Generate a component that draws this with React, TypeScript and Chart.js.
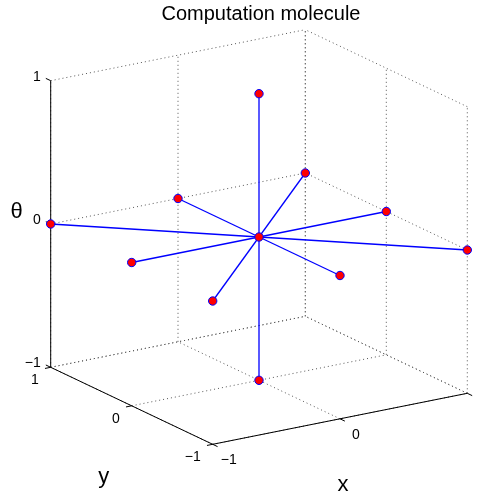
import React, { useEffect, useRef } from "react";
import { Chart, registerables } from "chart.js";

Chart.register(...registerables);

// ---- data: stencil points of the computation molecule (x, y, theta) ----
const pointX = [0, 1, -1, 0, 0, 0, 0, 1, -1, -1, 1];
const pointY = [0, 0, 0, 1, -1, 0, 0, 1, -1, 1, -1];
const pointTheta = [0, 0, 0, 0, 0, 1, -1, 0, 0, 0, 0];
const centerIndex = 0;

// ---- axes ----
const xTicks = [-1, 0, 1];
const yTicks = [-1, 0, 1];
const thetaTicks = [-1, 0, 1];
const xTickLabels = ["\u22121", "0", "1"];
const yTickLabels = ["\u22121", "0", "1"];
const thetaTickLabels = ["\u22121", "0", "1"];
const titleText = "Computation molecule";
const xLabel = "x";
const yLabel = "y";
const thetaLabel = "\u03b8";

// ---- view (orthographic projection of the 3D box onto the page) ----
const VIEW = { cx: 259, cy: 237, ex: [127.3, -25.5], ey: [-81, -38.5], ez: [0, -143.3] };
const W = 477;
const H = 497;

function proj(x: number, y: number, t: number) {
  return {
    x: VIEW.cx + x * VIEW.ex[0] + y * VIEW.ey[0] + t * VIEW.ez[0],
    y: VIEW.cy + x * VIEW.ex[1] + y * VIEW.ey[1] + t * VIEW.ez[1],
  };
}

const FONT = "'Liberation Sans', Arial, Helvetica, sans-serif";

type P3 = [number, number, number];

function seg(a: P3, b: P3, style: any) {
  return {
    data: [proj(a[0], a[1], a[2]), proj(b[0], b[1], b[2])],
    showLine: true,
    pointRadius: 0,
    fill: false,
    ...style,
  };
}

export default function App() {
  const ref = useRef<HTMLCanvasElement | null>(null);

  useEffect(() => {
    const canvas = ref.current;
    if (!canvas) return;
    const lo = Math.min(...xTicks), hi = Math.max(...xTicks);
    const ylo = Math.min(...yTicks), yhi = Math.max(...yTicks);
    const tlo = Math.min(...thetaTicks), thi = Math.max(...thetaTicks);

    const gridStyle = { borderColor: "#555", borderWidth: 1, borderDash: [1, 3], order: 40 };
    const axisStyle = { borderColor: "#000", borderWidth: 1, order: 30 };
    const spokeStyle = { borderColor: "#0000ff", borderWidth: 1.3, order: 20 };

    const datasets: any[] = [];
    // grid on back wall y = yhi
    xTicks.forEach((v) => datasets.push(seg([v, yhi, tlo], [v, yhi, thi], gridStyle)));
    thetaTicks.forEach((v) => datasets.push(seg([lo, yhi, v], [hi, yhi, v], gridStyle)));
    // grid on back wall x = hi
    yTicks.forEach((v) => datasets.push(seg([hi, v, tlo], [hi, v, thi], gridStyle)));
    thetaTicks.forEach((v) => datasets.push(seg([hi, ylo, v], [hi, yhi, v], gridStyle)));
    // grid on floor theta = tlo
    xTicks.forEach((v) => datasets.push(seg([v, ylo, tlo], [v, yhi, tlo], gridStyle)));
    yTicks.forEach((v) => datasets.push(seg([lo, v, tlo], [hi, v, tlo], gridStyle)));

    // axis lines
    datasets.push(seg([lo, yhi, tlo], [lo, yhi, thi], axisStyle));
    datasets.push(seg([lo, ylo, tlo], [lo, yhi, tlo], axisStyle));
    datasets.push(seg([lo, ylo, tlo], [hi, ylo, tlo], axisStyle));
    // tick marks
    thetaTicks.forEach((v) => datasets.push(seg([lo, yhi, v], [lo, yhi + 0.06, v], axisStyle)));
    yTicks.forEach((v) => datasets.push(seg([lo, v, tlo], [lo - 0.045, v, tlo], axisStyle)));
    xTicks.forEach((v) => datasets.push(seg([v, ylo, tlo], [v, ylo - 0.06, tlo], axisStyle)));

    // spokes
    const c: P3 = [pointX[centerIndex], pointY[centerIndex], pointTheta[centerIndex]];
    pointX.forEach((_, i) => {
      if (i === centerIndex) return;
      datasets.push(seg(c, [pointX[i], pointY[i], pointTheta[i]], spokeStyle));
    });
    // markers
    datasets.push({
      data: pointX.map((_, i) => proj(pointX[i], pointY[i], pointTheta[i])),
      showLine: false,
      pointRadius: 4.2,
      pointBorderWidth: 1,
      pointBackgroundColor: "#ff0000",
      pointBorderColor: "#0000ff",
      order: 10,
    });

    const textPlugin = {
      id: "labels3d",
      afterDraw(chart: any) {
        const ctx = chart.ctx as CanvasRenderingContext2D;
        const sx = (v: number) => chart.scales.x.getPixelForValue(v);
        const sy = (v: number) => chart.scales.y.getPixelForValue(v);
        ctx.save();
        ctx.fillStyle = "#000";
        ctx.textBaseline = "alphabetic";
        // title
        ctx.font = `20px ${FONT}`;
        ctx.textAlign = "center";
        ctx.fillText(titleText, 261, 20);
        // tick labels
        ctx.font = `14px ${FONT}`;
        ctx.textAlign = "right";
        thetaTicks.forEach((v, i) => {
          const p = proj(lo, yhi, v);
          ctx.fillText(thetaTickLabels[i], sx(p.x) - 10, sy(p.y));
        });
        yTicks.forEach((v, i) => {
          const p = proj(lo, v, tlo);
          ctx.fillText(yTickLabels[i], sx(p.x) - 12, sy(p.y) + 17);
        });
        ctx.textAlign = "center";
        xTicks.forEach((v, i) => {
          const p = proj(v, ylo, tlo);
          ctx.fillText(xTickLabels[i], sx(p.x) + 16, sy(p.y) + 20);
        });
        // axis labels
        ctx.font = `22px ${FONT}`;
        ctx.textAlign = "center";
        const pt = proj(lo, yhi, 0);
        ctx.fillText(thetaLabel, sx(pt.x) - 34, sy(pt.y) - 6);
        const py = proj(lo, 0, tlo);
        ctx.fillText(yLabel, sx(py.x) - 28, sy(py.y) + 77);
        const px = proj(0, ylo, tlo);
        ctx.fillText(xLabel, sx(px.x) + 3, sy(px.y) + 72);
        ctx.restore();
      },
    };

    const chart = new Chart(canvas, {
      type: "scatter",
      data: { datasets },
      options: {
        animation: false,
        responsive: false,
        events: [],
        layout: { padding: 0, autoPadding: false },
        plugins: { legend: { display: false }, tooltip: { enabled: false }, title: { display: false } },
        scales: {
          x: { type: "linear", min: 0, max: W, display: false },
          y: { type: "linear", min: 0, max: H, reverse: true, display: false },
        },
      },
      plugins: [textPlugin],
    });
    return () => chart.destroy();
  }, []);

  return (
    <div style={{ position: "fixed", left: 0, top: 0, width: W, height: H, background: "#fff" }}>
      <canvas ref={ref} width={W} height={H} style={{ display: "block", width: W, height: H }} />
    </div>
  );
}
